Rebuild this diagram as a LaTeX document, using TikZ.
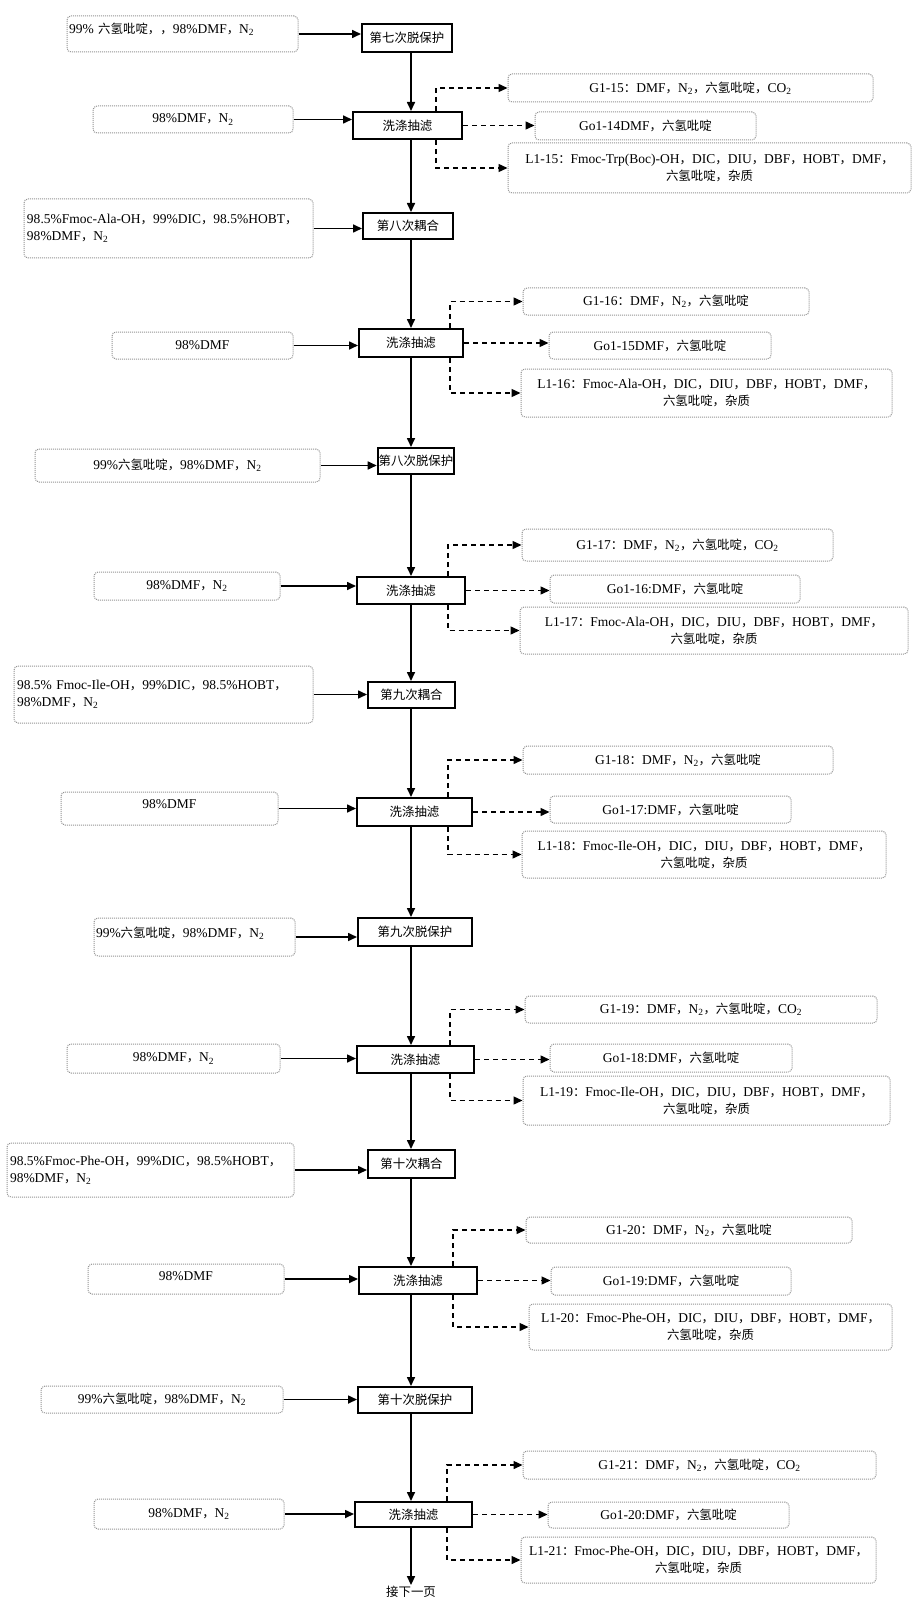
\documentclass[tikz,border=0pt]{standalone}
\usepackage{fontspec}
\setmainfont{Liberation Serif}
\newfontfamily\lat{Liberation Serif}
\newfontfamily\cjk[Scale=0.92]{Noto Sans CJK SC}
% switch to the CJK face for Chinese characters and full-width punctuation
\XeTeXinterchartokenstate=1
\newXeTeXintercharclass\zhclass
\newcount\zhc
\zhc="4E00
\loop\XeTeXcharclass\zhc=\zhclass \ifnum\zhc<"9FFF \advance\zhc by 1 \repeat
\XeTeXcharclass"FF0C=\zhclass \XeTeXcharclass"FF1A=\zhclass
\XeTeXinterchartoks 0 \zhclass={\cjk}
\XeTeXinterchartoks 4095 \zhclass={\cjk}
\XeTeXinterchartoks \zhclass 0={\lat}
\XeTeXinterchartoks \zhclass 4095={\lat}
\usetikzlibrary{arrows.meta,calc}
\begin{document}
\begin{tikzpicture}[x=1pt,y=-1pt,>={Triangle[length=9pt,width=8pt]},font=\fontsize{13.5}{17}\selectfont,proc/.style={draw,line width=2pt,fill=white,inner sep=1pt},feed/.style={draw=gray!85,dash pattern=on 1pt off 1pt,line width=1pt,rounded corners=4pt,inner sep=2pt},flow/.style={->,line width=1.6pt},emit/.style={->,dash pattern=on 5pt off 4pt,line width=1.4pt}]
\useasboundingbox (0,0) rectangle (913,1602);
\coordinate (spine) at (411,0);
% seventh deprotection
\node[feed,minimum width=231pt,minimum height=36pt,text width=227pt,align=left,text depth=12pt] (i1) at (182.5,34) {99\% 六氢吡啶，，98\%DMF，N\textsubscript{2}};
\node[proc,minimum width=90pt,minimum height=28pt] (p1) at (407,38) {第七次脱保护};
\node[feed,minimum width=200pt,minimum height=27pt] (i2) at (193,119.5) {98\%DMF，N\textsubscript{2}};
\node[proc,minimum width=109pt,minimum height=27pt] (w1) at (407.5,125.5) {洗涤抽滤};
\node[feed,minimum width=365pt,minimum height=28pt] (g15) at (690.5,88) {G1-15：DMF，N\textsubscript{2}，六氢吡啶，CO\textsubscript{2}};
\node[feed,minimum width=221pt,minimum height=28pt] (go14) at (645.5,126) {Go1-14DMF，六氢吡啶};
\node[feed,minimum width=403pt,minimum height=50pt,align=center] (l15) at (709.5,168) {L1-15：Fmoc-Trp(Boc)-OH，DIC，DIU，DBF，HOBT，DMF，\\六氢吡啶，杂质};
% eighth coupling
\node[feed,minimum width=289pt,minimum height=59pt,text width=283pt,align=left] (i3) at (168.5,228.5) {98.5\%Fmoc-Ala-OH，99\%DIC，98.5\%HOBT，\\98\%DMF，N\textsubscript{2}};
\node[proc,minimum width=90pt,minimum height=26pt] (p2) at (408,226) {第八次耦合};
\node[feed,minimum width=181pt,minimum height=27pt] (i4) at (202.5,345.5) {98\%DMF};
\node[proc,minimum width=104pt,minimum height=28pt] (w2) at (411,343) {洗涤抽滤};
\node[feed,minimum width=286pt,minimum height=27pt] (g16) at (666,301.5) {G1-16：DMF，N\textsubscript{2}，六氢吡啶};
\node[feed,minimum width=222pt,minimum height=27pt] (go15) at (660,345.5) {Go1-15DMF，六氢吡啶};
\node[feed,minimum width=371pt,minimum height=48pt,align=center] (l16) at (706.5,393) {L1-16：Fmoc-Ala-OH，DIC，DIU，DBF，HOBT，DMF，\\六氢吡啶，杂质};
% eighth deprotection
\node[feed,minimum width=285pt,minimum height=33pt] (i5) at (177.5,465.5) {99\%六氢吡啶，98\%DMF，N\textsubscript{2}};
\node[proc,minimum width=76pt,minimum height=26pt] (p3) at (416,461) {第八次脱保护};
\node[feed,minimum width=186pt,minimum height=28pt] (i6) at (187,586) {98\%DMF，N\textsubscript{2}};
\node[proc,minimum width=108pt,minimum height=27pt] (w3) at (411,590.5) {洗涤抽滤};
\node[feed,minimum width=311pt,minimum height=32pt] (g17) at (677.5,545) {G1-17：DMF，N\textsubscript{2}，六氢吡啶，CO\textsubscript{2}};
\node[feed,minimum width=250pt,minimum height=28pt] (go16) at (675,589) {Go1-16:DMF，六氢吡啶};
\node[feed,minimum width=388pt,minimum height=47pt,align=center] (l17) at (714,630.5) {L1-17：Fmoc-Ala-OH，DIC，DIU，DBF，HOBT，DMF，\\六氢吡啶，杂质};
% ninth coupling
\node[feed,minimum width=299pt,minimum height=57pt,text width=293pt,align=left] (i7) at (163.5,694.5) {98.5\% Fmoc-Ile-OH，99\%DIC，98.5\%HOBT，\\98\%DMF，N\textsubscript{2}};
\node[proc,minimum width=87pt,minimum height=26pt] (p4) at (411.5,695) {第九次耦合};
\node[feed,minimum width=217pt,minimum height=33pt,text depth=8pt] (i8) at (169.5,808.5) {98\%DMF};
\node[proc,minimum width=115pt,minimum height=28pt] (w4) at (414.5,812) {洗涤抽滤};
\node[feed,minimum width=310pt,minimum height=28pt] (g18) at (678,760) {G1-18：DMF，N\textsubscript{2}，六氢吡啶};
\node[feed,minimum width=241pt,minimum height=27pt] (go17) at (670.5,809.5) {Go1-17:DMF，六氢吡啶};
\node[feed,minimum width=364pt,minimum height=47pt,align=center] (l18) at (704,854.5) {L1-18：Fmoc-Ile-OH，DIC，DIU，DBF，HOBT，DMF，\\六氢吡啶，杂质};
% ninth deprotection
\node[feed,minimum width=201pt,minimum height=38pt,text width=197pt,align=left,text depth=10pt] (i9) at (194.5,937) {99\%六氢吡啶，98\%DMF，N\textsubscript{2}};
\node[proc,minimum width=114pt,minimum height=28pt] (p5) at (415,932) {第九次脱保护};
\node[feed,minimum width=213pt,minimum height=29pt] (i10) at (173.5,1058.5) {98\%DMF，N\textsubscript{2}};
\node[proc,minimum width=117pt,minimum height=27pt] (w5) at (415.5,1059.5) {洗涤抽滤};
\node[feed,minimum width=352pt,minimum height=27pt] (g19) at (701,1009.5) {G1-19：DMF，N\textsubscript{2}，六氢吡啶，CO\textsubscript{2}};
\node[feed,minimum width=242pt,minimum height=28pt] (go18) at (671,1058) {Go1-18:DMF，六氢吡啶};
\node[feed,minimum width=367pt,minimum height=49pt,align=center] (l19) at (706.5,1100.5) {L1-19：Fmoc-Ile-OH，DIC，DIU，DBF，HOBT，DMF，\\六氢吡啶，杂质};
% tenth coupling
\node[feed,minimum width=287pt,minimum height=54pt,text width=281pt,align=left] (i11) at (150.5,1170) {98.5\%Fmoc-Phe-OH，99\%DIC，98.5\%HOBT，\\98\%DMF，N\textsubscript{2}};
\node[proc,minimum width=87pt,minimum height=28pt] (p6) at (411.5,1164) {第十次耦合};
\node[feed,minimum width=196pt,minimum height=30pt,text depth=7pt] (i12) at (186,1279) {98\%DMF};
\node[proc,minimum width=118pt,minimum height=27pt] (w6) at (418,1280.5) {洗涤抽滤};
\node[feed,minimum width=326pt,minimum height=26pt] (g20) at (689,1230) {G1-20：DMF，N\textsubscript{2}，六氢吡啶};
\node[feed,minimum width=240pt,minimum height=28pt] (go19) at (671,1281) {Go1-19:DMF，六氢吡啶};
\node[feed,minimum width=363pt,minimum height=46pt,align=center] (l20) at (710.5,1327) {L1-20：Fmoc-Phe-OH，DIC，DIU，DBF，HOBT，DMF，\\六氢吡啶，杂质};
% tenth deprotection
\node[feed,minimum width=242pt,minimum height=27pt] (i13) at (162,1399.5) {99\%六氢吡啶，98\%DMF，N\textsubscript{2}};
\node[proc,minimum width=114pt,minimum height=26pt] (p7) at (415,1400) {第十次脱保护};
\node[feed,minimum width=190pt,minimum height=30pt] (i14) at (189,1514) {98\%DMF，N\textsubscript{2}};
\node[proc,minimum width=117pt,minimum height=25pt] (w7) at (413.5,1514.5) {洗涤抽滤};
\node[feed,minimum width=353pt,minimum height=28pt] (g21) at (699.5,1465) {G1-21：DMF，N\textsubscript{2}，六氢吡啶，CO\textsubscript{2}};
\node[feed,minimum width=241pt,minimum height=26pt] (go20) at (668.5,1515) {Go1-20:DMF，六氢吡啶};
\node[feed,minimum width=355pt,minimum height=46pt,align=center] (l21) at (698.5,1560) {L1-21：Fmoc-Phe-OH，DIC，DIU，DBF，HOBT，DMF，\\六氢吡啶，杂质};
\node[inner sep=1pt] (next) at (411,1592) {接下一页};
% connectors
\foreach \a/\b in {p1/w1,w1/p2,p2/w2,w2/p3,p3/w3,w3/p4,p4/w4,w4/p5,p5/w5,w5/p6,p6/w6,w6/p7,p7/w7,w7/next} \draw[flow] (\a.south -| spine) -- (\b.north -| spine);
\foreach \a/\b in {i1/p1,i2/w1,i3/p2,i4/w2,i5/p3,i6/w3,i7/p4,i8/w4,i9/p5,i10/w5,i11/p6,i12/w6,i13/p7,i14/w7} \draw[flow] (\a.east) -- (\a.east -| \b.west);
\foreach \w/\g/\o/\l/\s in {w1/g15/go14/l15/27,w2/g16/go15/l16/14,w3/g17/go16/l17/18,w4/g18/go17/l18/25,w5/g19/go18/l19/25,w6/g20/go19/l20/25,w7/g21/go20/l21/26} {\draw[emit] ([xshift=-\s pt]\w.north east) |- (\g.west); \draw[emit] (\w.east) -- (\w.east -| \o.west); \draw[emit] ([xshift=-\s pt]\w.south east) |- (\l.west);}
\end{tikzpicture}
\end{document}
